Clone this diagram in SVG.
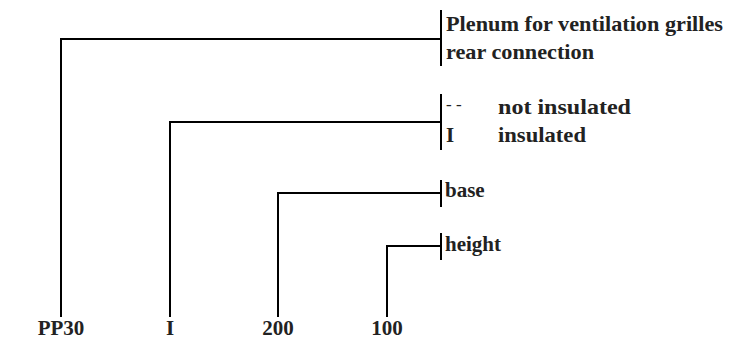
<svg xmlns="http://www.w3.org/2000/svg" width="729" height="342" viewBox="0 0 729 342">
<style>
text{font-family:"Liberation Serif","Times New Roman",serif;font-size:21px;font-weight:bold;fill:#222}
.c{fill:none;stroke:#000;stroke-width:2}
.m{text-anchor:middle}
</style>
<rect width="729" height="342" fill="#fff"/>
<g id="connectors">
<path class="c" d="M61 317V39H441M441 10V66"/>
<path class="c" d="M170 317V122H441M441 94V150"/>
<path class="c" d="M278 317V193H441M441 180V207"/>
<path class="c" d="M387 317V246H441M441 233V260"/>
</g>
<g id="node-pp30">
<text x="446" y="31" textLength="277" lengthAdjust="spacingAndGlyphs">Plenum for ventilation grilles</text>
<text x="446" y="59" textLength="148" lengthAdjust="spacingAndGlyphs">rear connection</text>
<text class="m" x="61" y="335">PP30</text>
</g>
<g id="node-i">
<text x="446" y="110" style="font-weight:normal;font-style:italic;font-size:17px">- -</text>
<text x="498" y="114" textLength="133" lengthAdjust="spacingAndGlyphs">not insulated</text>
<text x="446" y="142">I</text>
<text x="498" y="142" textLength="88" lengthAdjust="spacingAndGlyphs">insulated</text>
<text class="m" x="170" y="335">I</text>
</g>
<g id="node-200">
<text x="445" y="197">base</text>
<text class="m" x="278" y="335">200</text>
</g>
<g id="node-100">
<text x="445" y="251">height</text>
<text class="m" x="387" y="335">100</text>
</g>
</svg>
